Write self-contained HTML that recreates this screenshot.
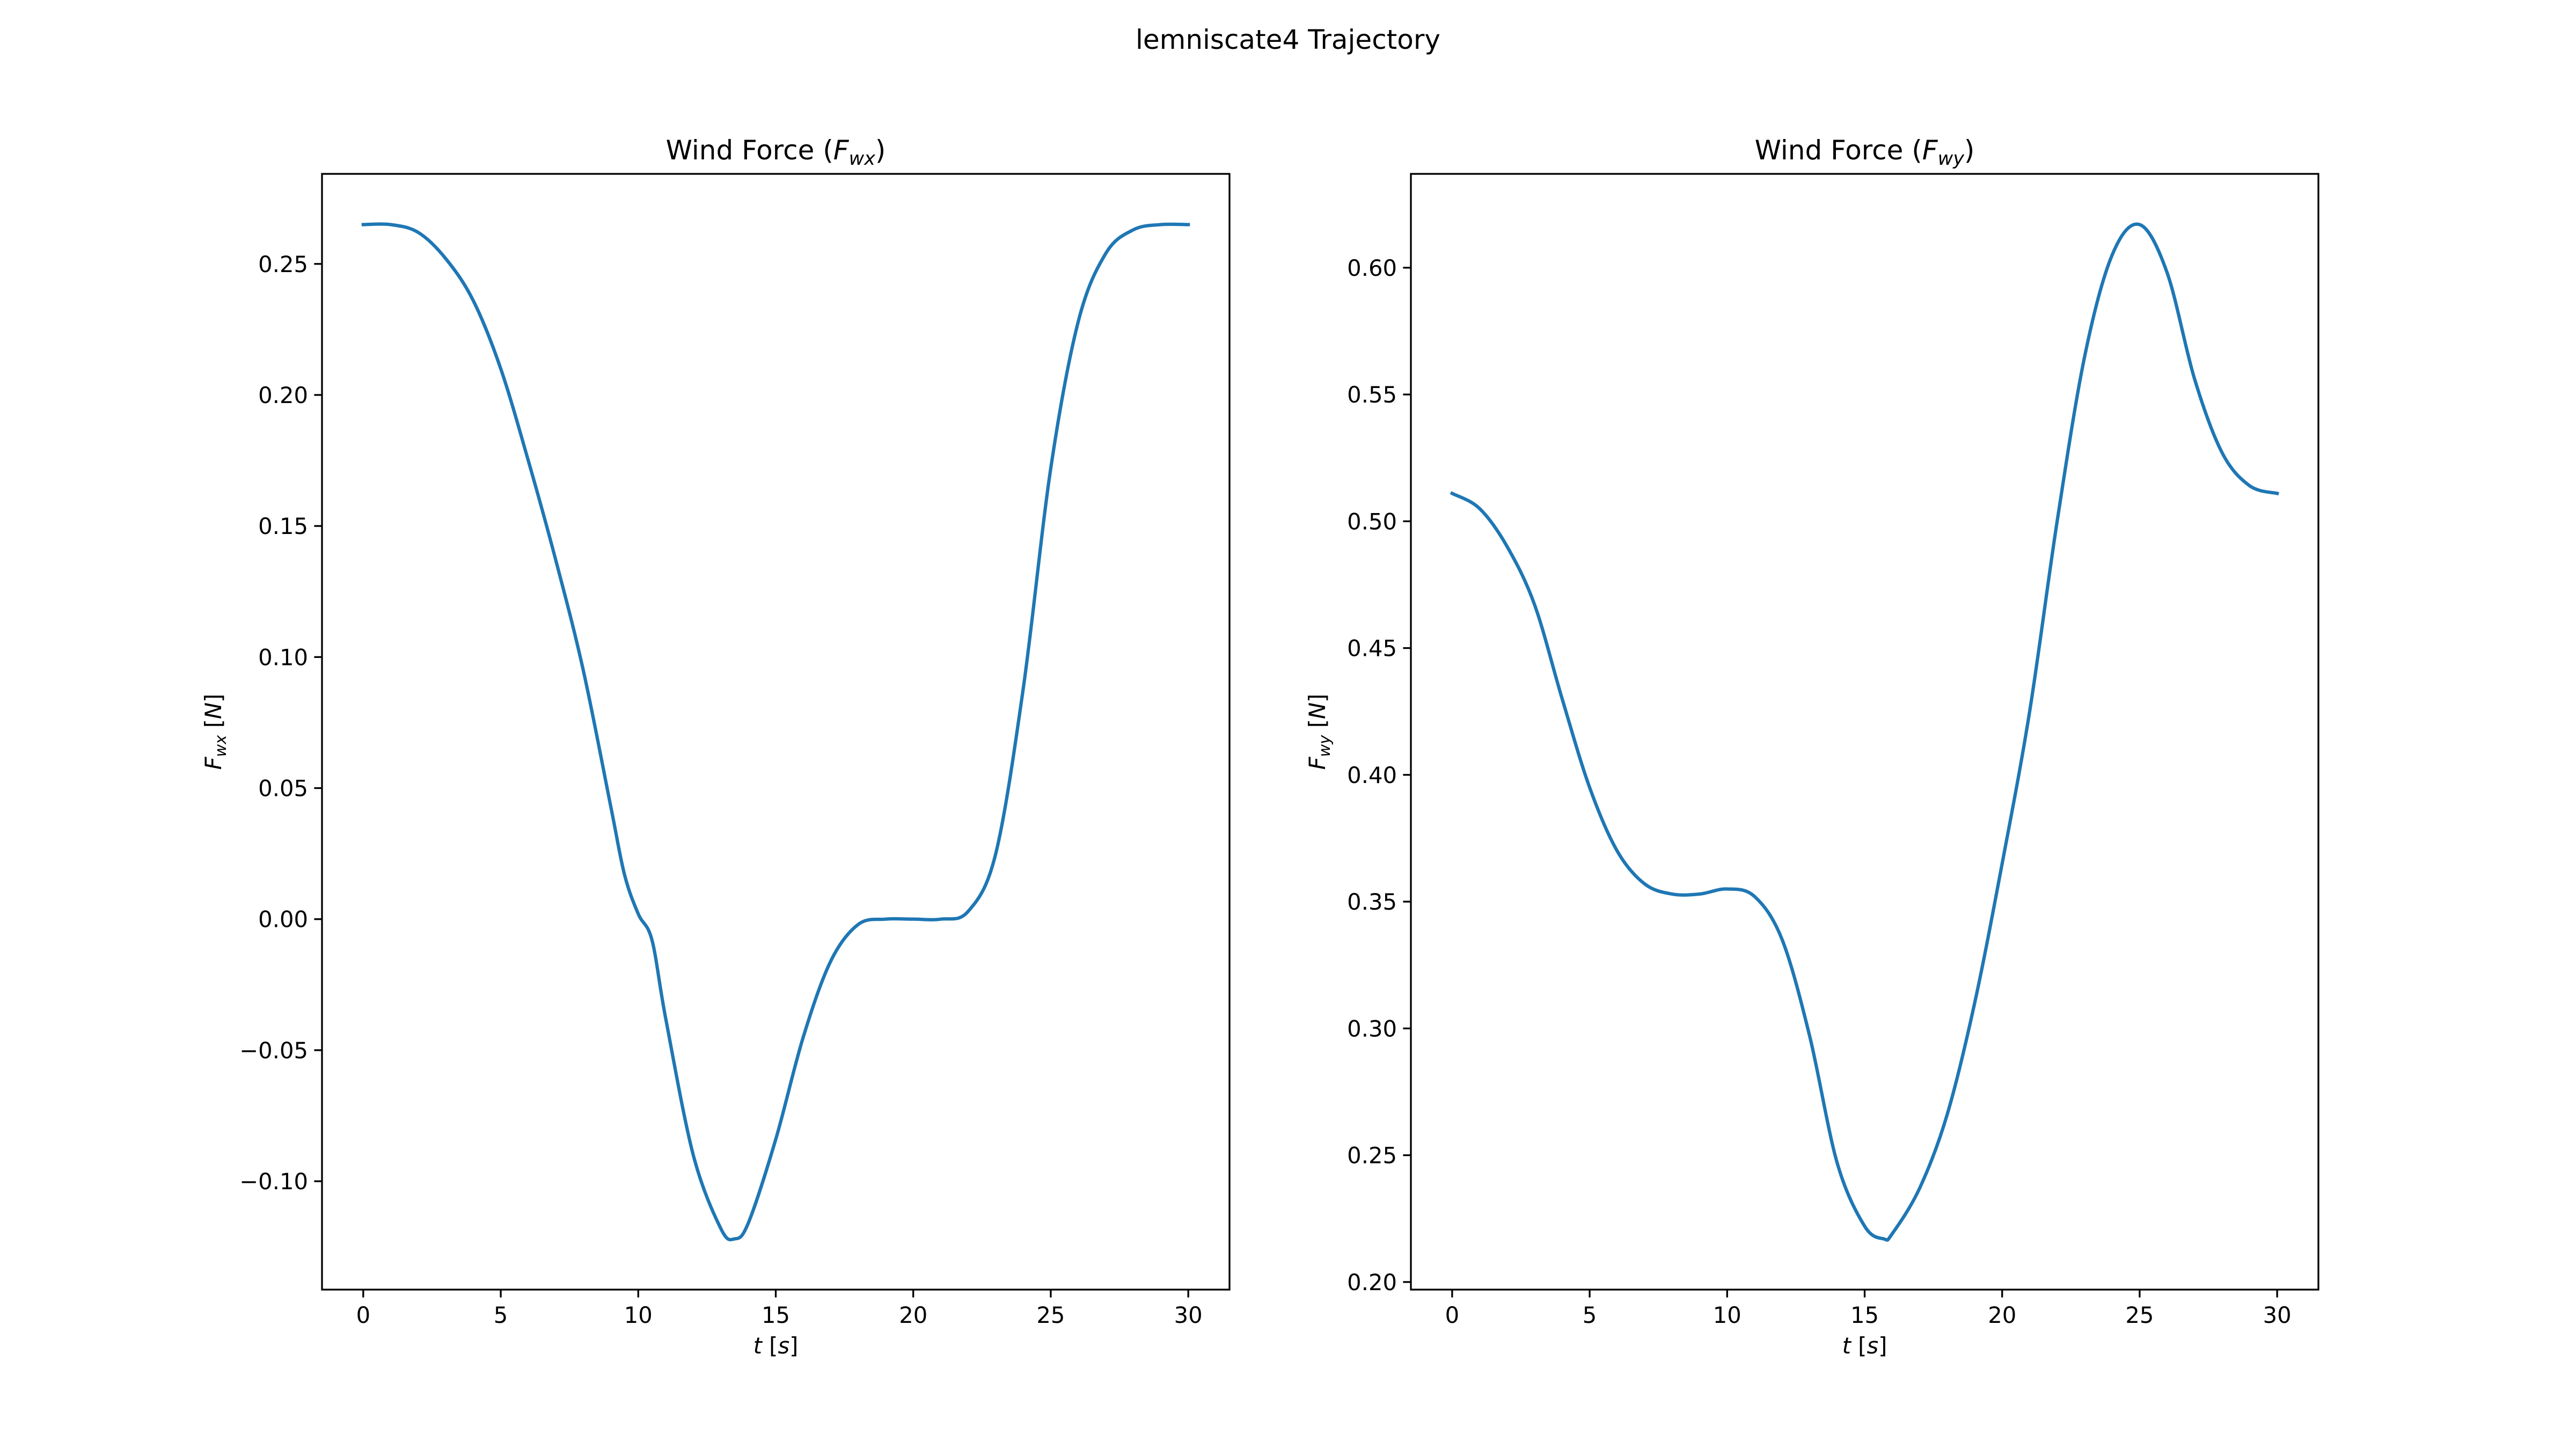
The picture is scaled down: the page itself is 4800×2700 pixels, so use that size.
<!DOCTYPE html>
<html><head><meta charset="utf-8"><style>
html,body{margin:0;padding:0;background:#fff}
svg{display:block}
text{font-family:"DejaVu Sans","Liberation Sans",sans-serif;fill:#000}
</style></head><body>
<svg id="fig" width="4800" height="2700" viewBox="0 0 4800 2700" xmlns="http://www.w3.org/2000/svg">
<rect width="4800" height="2700" fill="#fff"/>
<text x="2400" y="91" font-size="50" text-anchor="middle">lemniscate4 Trajectory</text>
</svg>
<script>
const tX = [0,1,2,3,4,5,6,7,8,9,9.5,10,10.5,11,12,13,13.5,14,15,16,17,18,19,20,21,22,23,24,25,26,27,28,29,30];
const fwx = [0.265,0.265,0.262,0.252,0.236,0.210,0.175,0.137,0.095,0.043,0.017,0.002,-0.008,-0.038,-0.09,-0.118,-0.122,-0.116,-0.084,-0.045,-0.016,-0.002,0,0,0,0.003,0.025,0.088,0.172,0.228,0.254,0.263,0.265,0.265];
const tY = [0,1,2,3,4,5,6,7,8,9,10,11,12,13,14,15,15.7,16,17,18,19,20,21,22,23,24,25,26,27,28,29,30];
const fwy = [0.511,0.505,0.49,0.467,0.43,0.395,0.37,0.357,0.353,0.353,0.355,0.352,0.335,0.297,0.247,0.222,0.217,0.219,0.237,0.266,0.31,0.365,0.425,0.50,0.565,0.605,0.617,0.598,0.556,0.527,0.514,0.511];
const xTicks = [0,5,10,15,20,25,30];
const yTicksL = [-0.10,-0.05,0.00,0.05,0.10,0.15,0.20,0.25];
const yTicksR = [0.20,0.25,0.30,0.35,0.40,0.45,0.50,0.55,0.60];

const NS="http://www.w3.org/2000/svg";
const svg=document.getElementById('fig');
function mk(tag,attrs,parent){const e=document.createElementNS(NS,tag);for(const k in attrs)e.setAttribute(k,attrs[k]);(parent||svg).appendChild(e);return e;}
const T=324,B=2403;
function fmt(v){const s=Math.abs(v).toFixed(2);return (v<-1e-9?'\u2212':'')+s;}
function panel(L,R,xs,ys,ticksY,sub,name,yOff){
  const g=mk('g',{});
  
  
  const xmin=-1.5,xmax=31.5;
  let ymn=Math.min(...ys),ymx=Math.max(...ys);const pad=(ymx-ymn)*0.05;ymn-=pad;ymx+=pad;
  const sx=v=>L+(v-xmin)/(xmax-xmin)*(R-L);
  const sy=v=>B-(v-ymn)/(ymx-ymn)*(B-T);
  const P=xs.map((x,i)=>[sx(x),sy(ys[i])]);
  let d='M'+P[0][0]+','+P[0][1];
  for(let i=0;i<P.length-1;i++){
    const p0=P[Math.max(i-1,0)],p1=P[i],p2=P[i+1],p3=P[Math.min(i+2,P.length-1)];
    const c1=[p1[0]+(p2[0]-p0[0])/6,p1[1]+(p2[1]-p0[1])/6];
    const c2=[p2[0]-(p3[0]-p1[0])/6,p2[1]-(p3[1]-p1[1])/6];
    d+=' C'+c1[0]+','+c1[1]+' '+c2[0]+','+c2[1]+' '+p2[0]+','+p2[1];
  }
  const ln=mk('path',{d:d,fill:'none',stroke:'#1f77b4','stroke-width':6.25,'stroke-linejoin':'round','stroke-linecap':'square'},g);
  
  
  const fr=mk('rect',{x:L,y:T,width:R-L,height:B-T,fill:'none',stroke:'#000','stroke-width':3.3},g);
  
  
  xTicks.forEach(v=>{const x=sx(v);
    mk('line',{x1:x,y1:B,x2:x,y2:B+14.6,stroke:'#000','stroke-width':3.3},g);
    const t=mk('text',{x:x,y:B+62,'font-size':41.7,'text-anchor':'middle'},g);t.textContent=String(v);
    
    
  });
  ticksY.forEach(v=>{const y=sy(v);
    mk('line',{x1:L,y1:y,x2:L-14.6,y2:y,stroke:'#000','stroke-width':3.3},g);
    const t=mk('text',{x:L-26,y:y+15,'font-size':41.7,'text-anchor':'end'},g);t.textContent=fmt(v);
    
    
  });
  const cx=(L+R)/2;
  const ti=mk('text',{x:cx,y:297,'font-size':50,'text-anchor':'middle'},g);
  ti.innerHTML='Wind Force (<tspan font-style="italic">F</tspan><tspan font-style="italic" font-size="35" dy="10">'+sub+'</tspan><tspan dy="-10">)</tspan>';
  
  
  const xl=mk('text',{x:cx,y:2522,'font-size':41.7,'text-anchor':'middle'},g);
  xl.innerHTML='<tspan font-style="italic">t</tspan> [<tspan font-style="italic">s</tspan>]';
  
  
  const yx=L-yOff,yy=(T+B)/2;
  const yl=mk('text',{x:yx,y:yy,'font-size':41.7,'text-anchor':'middle',transform:'rotate(-90 '+yx+' '+yy+')'},g);
  yl.innerHTML='<tspan font-style="italic">F</tspan><tspan font-style="italic" font-size="29" dy="9">'+sub+'</tspan><tspan dy="-9"> [</tspan><tspan font-style="italic">N</tspan>]';
  
  
}
panel(600,2291,tX,fwx,yTicksL,'wx','fwx-panel',188);
panel(2629,4320,tY,fwy,yTicksR,'wy','fwy-panel',160);
</script>
</body></html>
